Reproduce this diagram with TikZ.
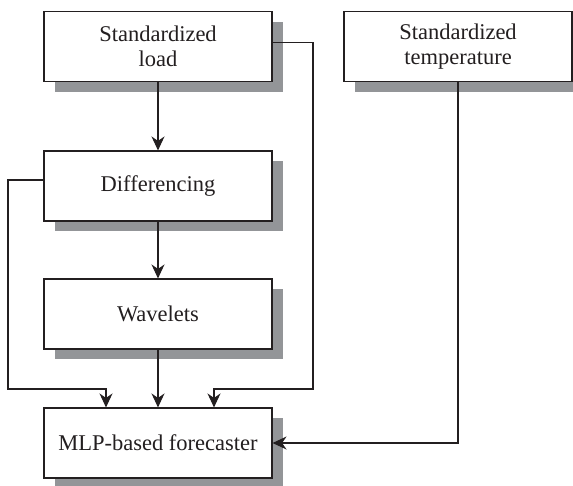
\documentclass[tikz,border=0pt]{standalone}
\usepackage{fontspec}
\setmainfont{Liberation Serif}
\usetikzlibrary{arrows.meta,shadows,positioning}
\definecolor{shadowgray}{HTML}{939598}
\definecolor{ink}{HTML}{231F20}
\begin{document}
\begin{tikzpicture}[x=1pt,y=-1pt,
  box/.style={draw=ink, line width=1.1pt, fill=white, text=ink,
    minimum width=228pt, minimum height=70pt, inner sep=0pt, align=center,
    font=\fontsize{22.5}{25}\selectfont,
    general shadow={fill=shadowgray, draw=none, shadow xshift=11pt, shadow yshift=-10pt}},
  arr/.style={draw=ink, line width=1.1pt, -{Stealth[length=14pt,width=13pt,inset=4.5pt]}}]
\useasboundingbox (0,0) rectangle (573,485);
\node[box] (load) at (158,46.5) {Standardized\\load};
\node[box] (temp) at (458,46.5) {Standardized\\temperature};
\node[box] (diff) at (158,186) {Differencing};
\node[box] (wav) at (158,314) {Wavelets};
\node[box] (mlp) at (158,443) {MLP-based forecaster};
\coordinate (lx) at (8,0);
\coordinate (rx) at (313,0);
\coordinate (jy) at (0,389);
\draw[arr] (load) -- (diff);
\draw[arr] (diff) -- (wav);
\draw[arr] (wav) -- (mlp);
\draw[arr] ([yshift=6pt]diff.west) -| (lx |- jy) -| ([xshift=-52pt]mlp.north);
\draw[arr] ([yshift=4pt]load.east) -| (rx |- jy) -| ([xshift=56pt]mlp.north);
\draw[arr] (temp.south) |- (mlp.east);
\end{tikzpicture}
\end{document}
